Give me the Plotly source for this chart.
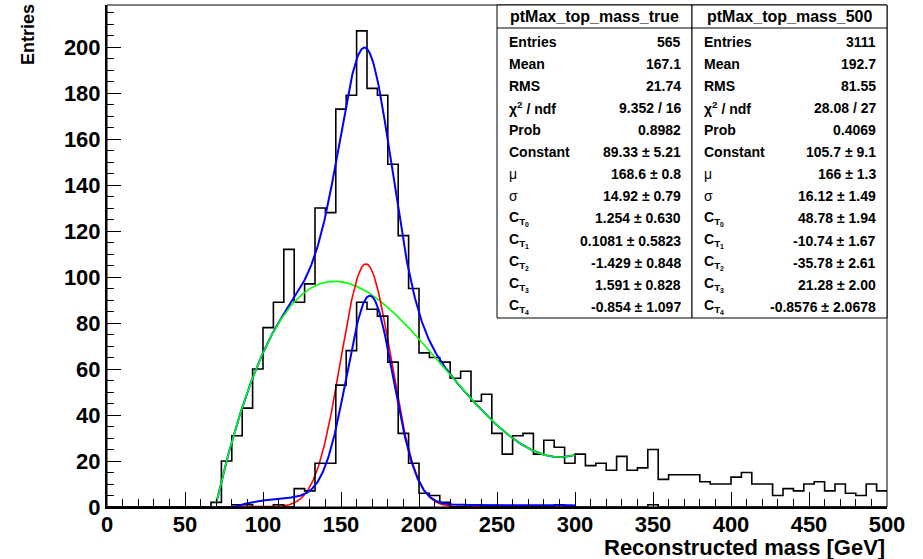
import numpy as np
import plotly.graph_objects as go
from numpy.polynomial import chebyshev as C

# ---------------- data ----------------
n_bins = 75
x_min, x_max = 0.0, 500.0

# ptMax_top_mass_500 histogram (bin contents, 75 bins of 6.67 GeV)
counts_500 = [0, 0, 0, 0, 0, 0, 0, 0, 0, 0,
              2, 20, 31, 43, 60, 78, 89, 112, 89, 97,
              130, 128, 173, 179, 207, 182, 179, 149, 118, 95,
              67, 65, 63, 56, 59, 46, 49, 32, 23, 31,
              32, 23, 29, 26, 19, 23, 18, 19, 16, 22,
              16, 17, 25, 12, 14, 14, 14, 11, 10, 10,
              13, 15, 10, 10, 5, 8, 7, 10, 11, 7,
              10, 6, 5, 10, 7]

# ptMax_top_mass_true histogram
counts_true = [0, 0, 0, 0, 0, 0, 0, 0, 0, 0,
               0, 0, 1, 1, 0, 0, 1, 0, 8, 7,
               19, 19, 53, 68, 89, 86, 83, 63, 32, 19,
               6, 5, 2, 0, 0, 1, 0, 0, 0, 0,
               0, 0, 0, 1, 0, 0, 0, 0, 0, 0,
               0, 0, 1, 0, 0, 0, 0, 0, 0, 0,
               0, 0, 0, 0, 0, 0, 0, 0, 0, 0,
               0, 0, 0, 0, 0]

# fit parameters: Constant, mu, sigma, C_T0..C_T4  (fit range 70-300 GeV)
fit_range = [70.0, 300.0]
fit_500 = [105.7, 166.0, 16.12, 48.78, -10.74, -35.78, 21.28, -0.8576]
fit_true = [89.33, 168.6, 14.92, 1.254, 0.1081, -1.429, 1.591, -0.854]

stat_titles = ["ptMax_top_mass_true", "ptMax_top_mass_500"]
stat_labels = ["Entries", "Mean", "RMS", "χ2ndf", "Prob", "Constant", "μ", "σ",
               "CT0", "CT1", "CT2", "CT3", "CT4"]
stat_true = ["565", "167.1", "21.74", "9.352 / 16", "0.8982", "89.33 ± 5.21",
             "168.6 ± 0.8", "14.92 ± 0.79", "1.254 ± 0.630", "0.1081 ± 0.5823",
             "-1.429 ± 0.848", "1.591 ± 0.828", "-0.854 ± 1.097"]
stat_500 = ["3111", "192.7", "81.55", "28.08 / 27", "0.4069", "105.7 ± 9.1",
            "166 ± 1.3", "16.12 ± 1.49", "48.78 ± 1.94", "-10.74 ± 1.67",
            "-35.78 ± 2.61", "21.28 ± 2.00", "-0.8576 ± 2.0678"]

# ---------------- helpers ----------------
edges = np.linspace(x_min, x_max, n_bins + 1)


def step(counts):
    return list(edges), list(counts) + [counts[-1]]


def gauss(x, p):
    return p[0] * np.exp(-0.5 * ((x - p[1]) / p[2]) ** 2)


def bkg(x, p):
    t = 2.0 * (x - fit_range[0]) / (fit_range[1] - fit_range[0]) - 1.0
    return C.chebval(t, p[3:8])


xf = np.linspace(fit_range[0], fit_range[1], 600)

FONT = "Liberation Sans"
W, H = 923, 559
L, R, T, B = 107, 887, 5, 507


def px(xp):
    return (xp - L) / (R - L)


def py(yp):
    return (B - yp) / (B - T)


fig = go.Figure()

hx, hy = step(counts_500)
fig.add_trace(go.Scatter(x=hx, y=hy, mode="lines", line=dict(shape="hv", color="black", width=1.6),
                         hoverinfo="skip"))
fig.add_trace(go.Scatter(x=xf, y=gauss(xf, fit_500) + bkg(xf, fit_500), mode="lines",
                         line=dict(color="#0000ff", width=2)))
fig.add_trace(go.Scatter(x=xf, y=bkg(xf, fit_500), mode="lines",
                         line=dict(color="#00ff00", width=1.6)))
fig.add_trace(go.Scatter(x=xf, y=gauss(xf, fit_500), mode="lines",
                         line=dict(color="#ff0000", width=1.6)))
tx, ty = step(counts_true)
fig.add_trace(go.Scatter(x=tx, y=ty, mode="lines", line=dict(shape="hv", color="black", width=1.6),
                         hoverinfo="skip"))
fig.add_trace(go.Scatter(x=xf, y=gauss(xf, fit_true) + bkg(xf, fit_true), mode="lines",
                         line=dict(color="#0000ff", width=2)))

tickfont = dict(family=FONT, size=22, color="black", weight="bold")
fig.update_xaxes(range=[x_min, x_max], dtick=50, tick0=0, ticks="inside", ticklen=15, tickwidth=1,
                 tickcolor="black", showgrid=False, zeroline=False, showline=True, linecolor="black",
                 linewidth=2, tickfont=tickfont, ticklabelstandoff=-3,
                 minor=dict(dtick=10, ticks="inside", ticklen=8, tickcolor="black", showgrid=False))
fig.update_yaxes(range=[0, (B - T) / 2.3], dtick=20, tick0=0, ticks="inside", ticklen=14, tickwidth=1,
                 tickcolor="black", showgrid=False, zeroline=False, showline=True, linecolor="black",
                 linewidth=2, tickfont=tickfont,
                 minor=dict(dtick=5, ticks="inside", ticklen=7, tickcolor="black", showgrid=False))

shapes = [dict(type="rect", xref="paper", yref="paper", x0=0, x1=1, y0=0, y1=1,
               line=dict(color="black", width=1), layer="above")]
ann = []
ann.append(dict(text="Entries", xref="paper", yref="paper", x=px(28), y=py(35), textangle=-90,
                showarrow=False, xanchor="center", yanchor="middle",
                font=dict(family=FONT, size=18, color="black", weight="bold")))
ann.append(dict(text="Reconstructed mass [GeV]", xref="paper", yref="paper", x=px(887), y=py(547),
                showarrow=False, xanchor="right", yanchor="middle",
                font=dict(family=FONT, size=22, color="black", weight="bold")))

boxes = [(497, 692, stat_titles[0], stat_true), (692, 887, stat_titles[1], stat_500)]
row_y = [41.7 + 22.1 * i for i in range(13)]
for x0b, x1b, title, vals in boxes:
    shapes.append(dict(type="rect", xref="paper", yref="paper", x0=px(x0b), x1=px(x1b),
                       y0=py(318), y1=py(5), line=dict(color="black", width=1),
                       fillcolor="white", layer="above"))
    shapes.append(dict(type="line", xref="paper", yref="paper", x0=px(x0b), x1=px(x1b),
                       y0=py(28), y1=py(28), line=dict(color="black", width=1), layer="above"))
    ann.append(dict(text=title, xref="paper", yref="paper", x=px((x0b + x1b) / 2), y=py(17),
                    showarrow=False, xanchor="center", yanchor="middle",
                    font=dict(family=FONT, size=16, color="black", weight="bold")))
    for lab, val, yy in zip(stat_labels, vals, row_y):
        weight = "bold"
        if lab == "χ2ndf":
            t = "χ<sup>2</sup> / ndf"
        elif lab in ("μ", "σ"):
            t = lab
            weight = "normal"
        elif lab.startswith("CT"):
            t = "C<sub>T<sub>%s</sub></sub>" % lab[2]
        else:
            t = lab
        ann.append(dict(text=t, xref="paper", yref="paper", x=px(x0b + 10), y=py(yy),
                        showarrow=False, xanchor="left", yanchor="middle",
                        font=dict(family=FONT, size=14, color="black", weight=weight)))
        ann.append(dict(text=val, xref="paper", yref="paper", x=px(x1b - 9), y=py(yy),
                        showarrow=False, xanchor="right", yanchor="middle",
                        font=dict(family=FONT, size=14, color="black", weight="bold")))

fig.update_layout(width=W, height=H, margin=dict(l=L, r=W - R, t=T, b=H - B, autoexpand=False),
                  paper_bgcolor="white", plot_bgcolor="white", showlegend=False,
                  shapes=shapes, annotations=ann, font=dict(family=FONT, color="black"))

fig.write_html("out.html", config={"displayModeBar": False},
               post_script="document.body.style.margin='0';")
